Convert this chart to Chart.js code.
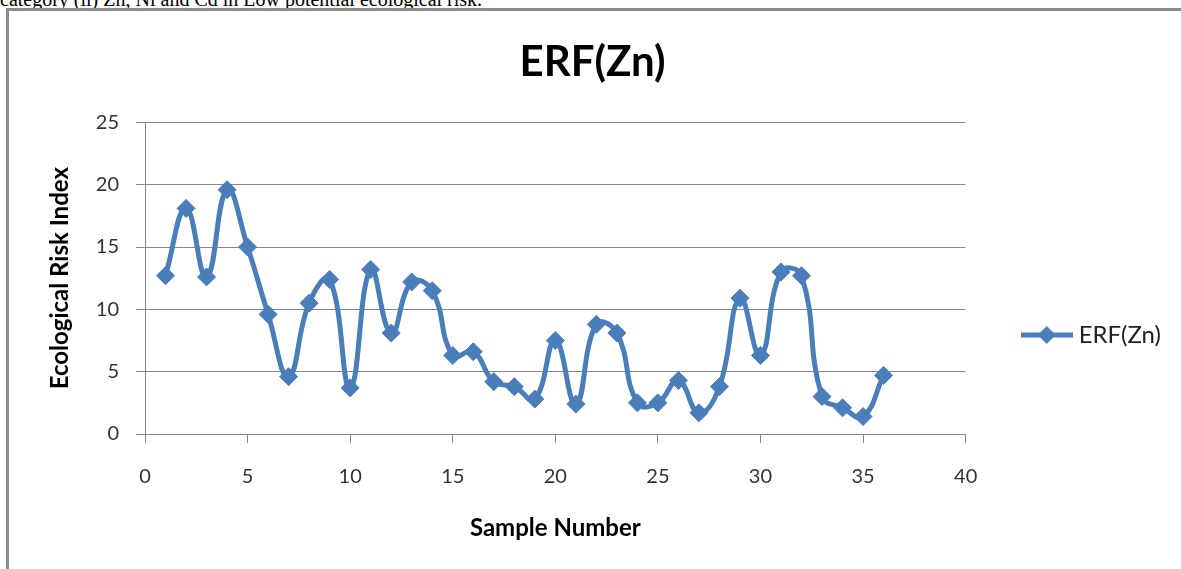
<!DOCTYPE html>
<html>
<head>
<meta charset="utf-8">
<script src="https://cdn.jsdelivr.net/npm/chart.js@4.4.0/dist/chart.umd.min.js"></script>
<style>
  html, body { margin: 0; padding: 0; background: #fff; overflow: hidden; }
  #page { position: relative; width: 1181px; height: 569px; overflow: hidden; }
  #caption { position: absolute; left: 0; top: -11px; font: 20px/20px "Liberation Serif", serif; color: #000; white-space: nowrap; }
  #frame { position: absolute; left: 6px; top: 8px; width: 1300px; height: 800px; border: 3px solid #8c8c8c; }
  #myChart { position: absolute; left: 0; top: 0; }
</style>
</head>
<body>
<div id="page">
  <div id="caption">category (ii) Zn, Ni and Cd in Low potential ecological risk.</div>
  <div id="frame"></div>
  <canvas id="myChart" width="1181" height="670"></canvas>
</div>
<script>
// sample numbers along the x axis
const sampleNumbers = [1, 2, 3, 4, 5, 6, 7, 8, 9, 10, 11, 12, 13, 14, 15, 16, 17, 18,
    19, 20, 21, 22, 23, 24, 25, 26, 27, 28, 29, 30, 31, 32, 33, 34, 35, 36];
// ERF(Zn) values
const erfZn = [12.7, 18.1, 12.6, 19.6, 15.0, 9.6, 4.6, 10.5, 12.4, 3.7, 13.2, 8.1,
    12.2, 11.5, 6.3, 6.6, 4.2, 3.8, 2.8, 7.5, 2.4, 8.8, 8.1, 2.5, 2.5, 4.3, 1.7, 3.8,
    10.9, 6.3, 13.0, 12.7, 3.0, 2.1, 1.4, 4.7];
const xTicks = [0, 5, 10, 15, 20, 25, 30, 35, 40];
const yTicks = [0, 5, 10, 15, 20, 25];

const blue = '#4A7EBB';
const gridGray = '#868686';
const ctx = document.getElementById('myChart').getContext('2d');

Chart.defaults.font.family = 'Lato, "Open Sans", sans-serif';

// line + diamond symbol for the legend
function legendMarker() {
    const c = document.createElement('canvas');
    c.width = 52;
    c.height = 20;
    const g = c.getContext('2d');
    g.strokeStyle = blue;
    g.lineWidth = 5;
    g.beginPath();
    g.moveTo(0, 10);
    g.lineTo(52, 10);
    g.stroke();
    g.fillStyle = blue;
    g.beginPath();
    g.moveTo(26, 1);
    g.lineTo(35, 10);
    g.lineTo(26, 19);
    g.lineTo(17, 10);
    g.closePath();
    g.fill();
    return c;
}

const myChart = new Chart(ctx, {
    type: 'line',
    data: {
        datasets: [{
            label: 'ERF(Zn)',
            data: sampleNumbers.map((n, i) => ({ x: n, y: erfZn[i] })),
            borderColor: blue,
            backgroundColor: blue,
            borderWidth: 5,
            tension: 0.45,
            pointStyle: 'rectRot',
            pointRadius: 9,
            pointBorderWidth: 1,
            pointBackgroundColor: blue,
            pointBorderColor: blue,
            fill: false,
            clip: false
        }]
    },
    options: {
        responsive: false,
        animation: false,
        devicePixelRatio: 1,
        layout: { padding: { left: 14, right: 10, top: 0, bottom: 0 } },
        plugins: {
            title: {
                display: true,
                text: 'ERF(Zn)',
                color: '#000',
                font: { size: 42, weight: 'bold' },
                padding: { top: 37, bottom: 35 }
            },
            legend: {
                position: 'right',
                labels: {
                    usePointStyle: true,
                    pointStyle: legendMarker(),
                    pointStyleWidth: 40,
                    padding: 61,
                    color: '#222',
                    font: { size: 24 }
                }
            },
            tooltip: { enabled: false }
        },
        scales: {
            x: {
                type: 'linear',
                min: xTicks[0],
                max: xTicks[xTicks.length - 1],
                afterBuildTicks: s => { s.ticks = xTicks.map(v => ({ value: v })); },
                afterFit: s => { s.height = 236; },
                ticks: { color: '#333', font: { size: 20 }, padding: 22, maxRotation: 0 },
                grid: { drawOnChartArea: false, tickLength: 9, color: gridGray },
                border: { color: gridGray },
                title: {
                    display: true,
                    text: 'Sample Number',
                    color: '#000',
                    font: { size: 24, weight: 'bold' },
                    padding: { top: 0, bottom: 127 }
                }
            },
            y: {
                min: yTicks[0],
                max: yTicks[yTicks.length - 1],
                afterBuildTicks: s => { s.ticks = yTicks.map(v => ({ value: v })); },
                afterFit: s => { s.width = 131; },
                ticks: { color: '#333', font: { size: 20 }, padding: 17 },
                grid: { tickLength: 9, color: gridGray },
                border: { color: gridGray },
                title: {
                    display: true,
                    text: 'Ecological Risk Index',
                    color: '#000',
                    font: { size: 24, weight: 'bold' },
                    padding: { top: 32, bottom: 0 }
                }
            }
        }
    }
});
</script>
</body>
</html>
